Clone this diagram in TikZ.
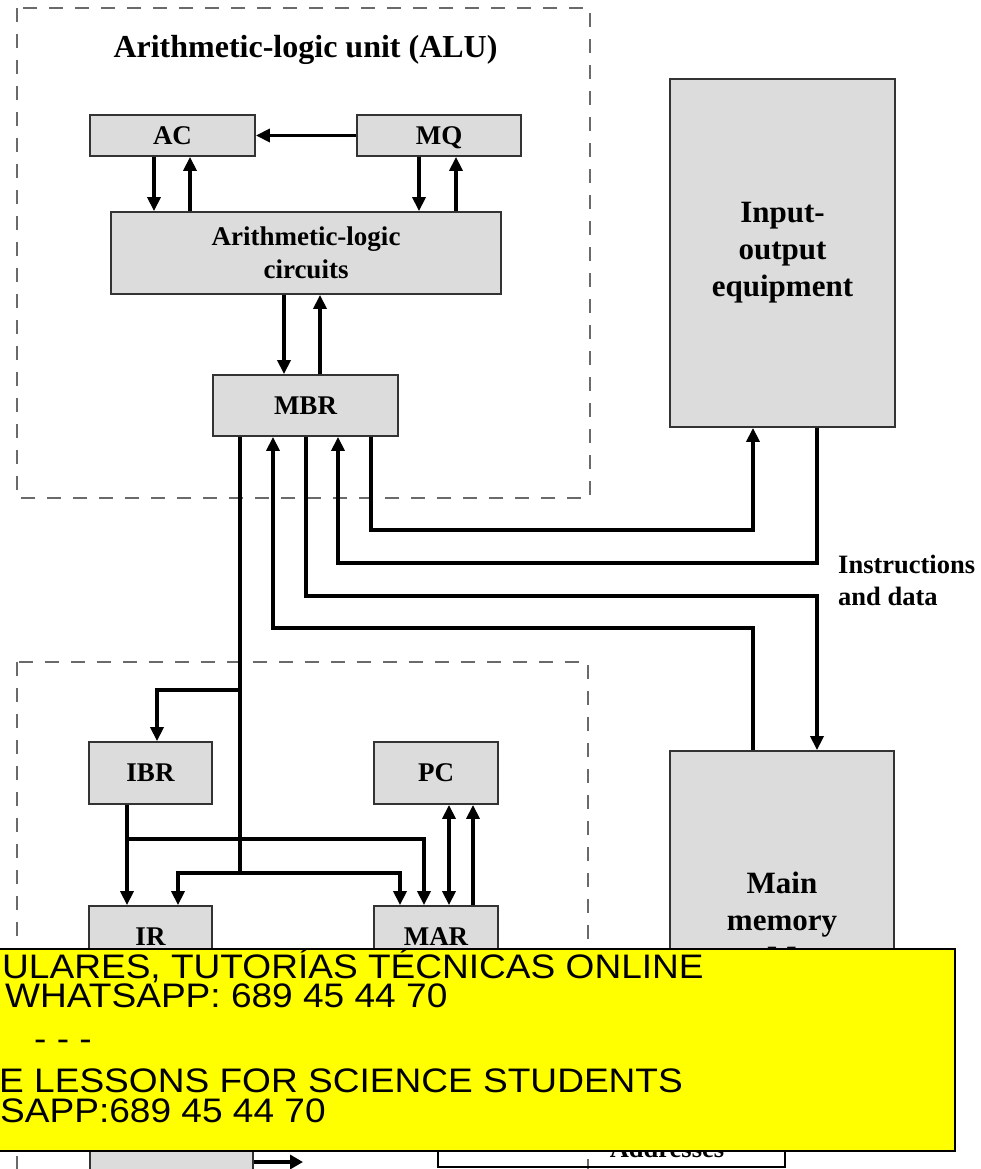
\documentclass[tikz,border=0pt]{standalone}
\usepackage{fontspec}
\setmainfont{Liberation Serif}
\newfontfamily\bannerfont{Liberation Sans}
\usetikzlibrary{arrows.meta}
\definecolor{boxgray}{HTML}{DCDCDC}
\definecolor{edgegray}{HTML}{333333}
\definecolor{dashgray}{HTML}{6A6A6A}
\definecolor{banneryellow}{HTML}{FFFF00}
\begin{document}
\begin{tikzpicture}[x=1pt,y=-1pt,
  reg/.style={draw=edgegray,line width=1.8pt,fill=boxgray,inner sep=0pt,
    font=\fontsize{27}{33}\selectfont\bfseries,align=center},
  bigreg/.style={reg,font=\fontsize{31}{37}\selectfont\bfseries},
  unitframe/.style={draw=dashgray,line width=2.5pt,dash pattern=on 14pt off 12pt},
  wire/.style={line width=3.8pt,line join=miter},
  bus/.style={wire,-{Triangle[length=14pt,width=13pt]}},
  dbus/.style={wire,{Triangle[length=14pt,width=13pt]}-{Triangle[length=14pt,width=13pt]}},
  lbl/.style={inner sep=0pt,font=\fontsize{26.5}{32}\selectfont\bfseries},
  bannertext/.style={inner sep=0pt,anchor=base west,font=\bannerfont\fontsize{34}{40}\selectfont}
]
\useasboundingbox (0,0) rectangle (980,1169);

% dashed outlines of the two units
\draw[unitframe] (17,8) rectangle (590,498);
\draw[unitframe] (17,662) rectangle (588,1230);

\node[inner sep=0pt,font=\fontsize{32}{36}\selectfont\bfseries] (title) at (305.5,50) {Arithmetic-logic unit (ALU)};

% registers and units
\node[reg,minimum width=165pt,minimum height=41pt] (AC)  at (172.5,135.5) {AC};
\node[reg,minimum width=164pt,minimum height=41pt,text depth=0pt] (MQ)  at (439,135.5) {MQ};
\node[reg,minimum width=390pt,minimum height=82pt] (ALC) at (306,253) {Arithmetic-logic\\circuits};
\node[reg,minimum width=185pt,minimum height=61pt] (MBR) at (305.5,405.5) {MBR};
\node[bigreg,minimum width=225pt,minimum height=348pt] (IO) at (782.5,253) {Input-\\output\\equipment};
\node[bigreg,minimum width=224pt,minimum height=338pt] (MM) at (782,920) {Main\\memory\\M};
\node[reg,minimum width=123pt,minimum height=62pt] (IBR) at (150.5,773) {IBR};
\node[reg,minimum width=124pt,minimum height=62pt] (PC)  at (436,773) {PC};
\node[reg,minimum width=123pt,minimum height=62pt] (IR)  at (150.5,937) {IR};
\node[reg,minimum width=124pt,minimum height=62pt] (MAR) at (436,937) {MAR};
\node[reg,minimum width=163pt,minimum height=130pt] (CC) at (171.5,1145) {};

% ALU internal paths
\draw[bus] (MQ.west) -- (AC.east);
\draw[bus] (154,0 |- AC.south) -- (154,0 |- ALC.north);
\draw[bus] (190,0 |- ALC.north) -- (190,0 |- AC.south);
\draw[bus] (419,0 |- MQ.south) -- (419,0 |- ALC.north);
\draw[bus] (456,0 |- ALC.north) -- (456,0 |- MQ.south);
\draw[bus] (284,0 |- ALC.south) -- (284,0 |- MBR.north);
\draw[bus] (320,0 |- MBR.north) -- (320,0 |- ALC.south);

% MBR to input-output and main memory
\draw[bus] (371,0 |- MBR.south) -- (371,530) -- (753,530) -- (753,0 |- IO.south);
\draw[bus] (817,0 |- IO.south) -- (817,563) -- (338,563) -- (338,0 |- MBR.south);
\draw[bus] (306,0 |- MBR.south) -- (306,596) -- (817,596) -- (817,0 |- MM.north);
\draw[bus] (753,0 |- MM.north) -- (753,628) -- (273,628) -- (273,0 |- MBR.south);

\node[lbl,anchor=north west,align=left] (iod) at (838,555) {Instructions\\and data};

% MBR distribution into the program control unit
\coordinate (jIBR) at (240,690);
\coordinate (jLow) at (240,873);
\draw[wire] (240,0 |- MBR.south) -- (jLow);
\draw[bus] (jIBR) -- (157,690) -- (157,0 |- IBR.north);
\draw[bus] (jLow) -- (178,873) -- (178,0 |- IR.north);
\draw[bus] (jLow) -- (400,873) -- (400,0 |- MAR.north);
\draw[bus] (127,0 |- IBR.south) -- (127,0 |- IR.north);
\draw[bus] (127,839) -- (424,839) -- (424,0 |- MAR.north);
\draw[dbus] (449,0 |- PC.south) -- (449,0 |- MAR.north);
\draw[bus] (473,0 |- MAR.north) -- (473,0 |- PC.south);

% control signals and address path
\draw[line width=4pt,-{Triangle[length=13pt,width=14pt]}] (CC.east |- 0,1162) -- (303,1162);
\draw[line width=2.5pt] (438,1090) -- (438,1167) -- (785,1167) -- (785,1090);
\node[lbl,anchor=base] (addr) at (667,1157) {Addresses};

% overlay banner
\fill[banneryellow] (-5,949) rectangle (955,1151);
\draw[line width=2.5pt] (-5,949) -- (955,949) -- (955,1151) -- (-5,1151);
\node[bannertext] (b1) at (2,978) {\scalebox{1.09}[1]{ULARES, TUTORÍAS TÉCNICAS ONLINE}};
\node[bannertext] (b2) at (5,1007) {\scalebox{1.09}[1]{WHATSAPP: 689 45 44 70}};
\node[bannertext] (b3) at (34,1050) {\scalebox{1.09}[1]{- - -}};
\node[bannertext] (b4) at (-1,1092) {\scalebox{1.09}[1]{E LESSONS FOR SCIENCE STUDENTS}};
\node[bannertext] (b5) at (0,1122) {\scalebox{1.09}[1]{SAPP:689 45 44 70}};
\end{tikzpicture}
\end{document}
